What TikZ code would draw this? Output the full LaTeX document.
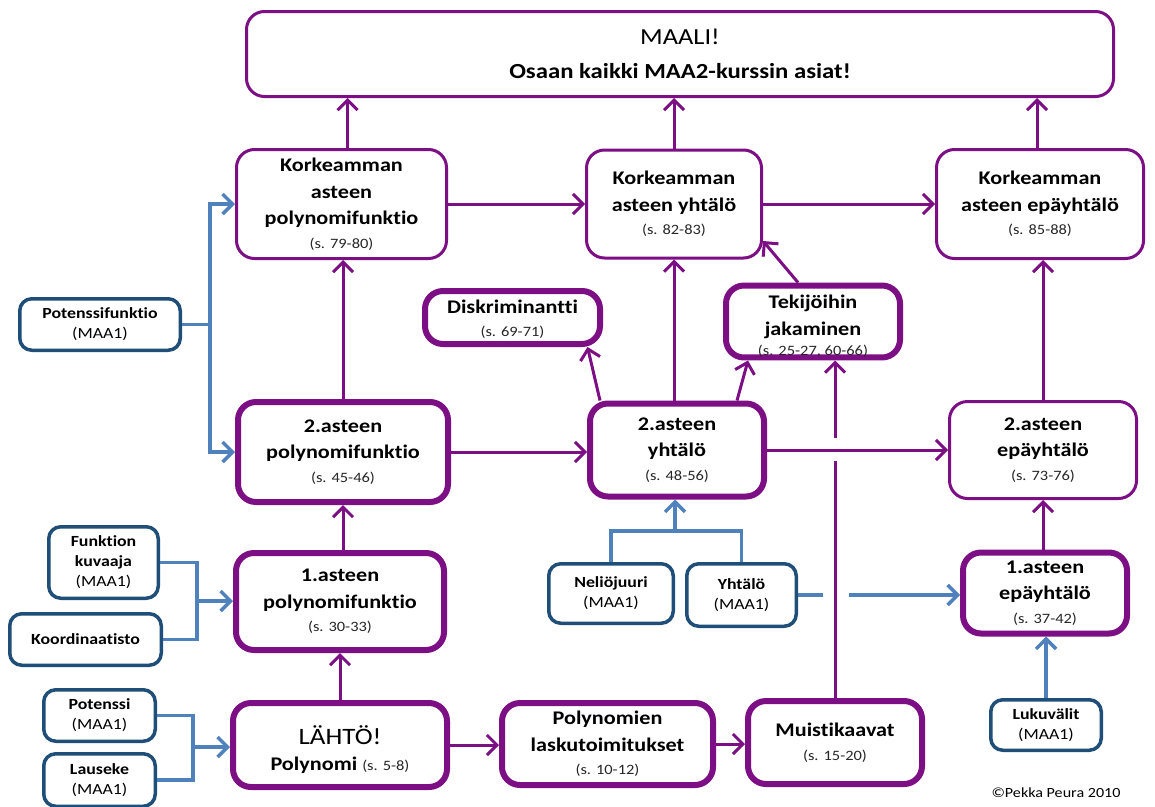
\documentclass[tikz,border=0pt]{standalone}
\usepackage{fontspec}
\setmainfont[FakeStretch=1.15,Ligatures=NoCommon]{Carlito}
\usetikzlibrary{arrows.meta}
\definecolor{purp}{HTML}{7D0F84}
\definecolor{dblue}{HTML}{1F4E79}
\definecolor{lblue}{HTML}{4F81BD}
\newcommand\pgref[1]{{\normalfont\fontsize{14.3}{16}\selectfont\color{black!85}#1}}
\newcommand\maaone{{\normalfont\fontsize{15.5}{18}\selectfont (MAA1)}}
\begin{document}
\begin{tikzpicture}[x=1pt,y=-1pt,
 box/.style={draw=purp,fill=white,rounded corners=18pt,align=center,inner sep=0pt,font=\bfseries\fontsize{19.3}{26.5}\selectfont},
 thinbox/.style={box,line width=3pt},
 thickbox/.style={box,line width=6pt},
 bluebox/.style={draw=dblue,fill=white,line width=3.5pt,rounded corners=12pt,align=center,inner sep=0pt,font=\bfseries\fontsize{15.5}{20}\selectfont},
 parr/.style={draw=purp,line width=3pt,-{Straight Barb[length=10pt,width=20pt]}},
 pline/.style={draw=purp,line width=3pt},
 barr/.style={draw=lblue,line width=3.5pt,-{Straight Barb[length=10pt,width=20pt]}},
 bline/.style={draw=lblue,line width=3.5pt},
]
\fill[white] (0,0) rectangle (1155,806);
\useasboundingbox (0,0) rectangle (1155,806);

% top goal
\node[thinbox,minimum width=867pt,minimum height=85pt] (maali) at (680,54)
 {{\mdseries\fontsize{23}{26}\selectfont MAALI!}\\[8pt]{\fontsize{21.5}{24}\selectfont Osaan kaikki MAA2-kurssin asiat!}};

% row 1
\node[thinbox,minimum width=210pt,minimum height=109pt] (korkPF) at (341.5,204)
 {Korkeamman\\asteen\\polynomifunktio\\[-3pt]\pgref{(s. 79-80)}};
\node[thinbox,minimum width=175pt,minimum height=108pt] (korkY) at (674,204)
 {Korkeamman\\asteen yhtälö\\[-3pt]\pgref{(s. 82-83)}};
\node[thinbox,minimum width=207pt,minimum height=109pt] (korkE) at (1040,204)
 {Korkeamman\\asteen epäyhtälö\\[-3pt]\pgref{(s. 85-88)}};

% row 2
\node[thickbox,minimum width=175pt,minimum height=53pt] (diskr) at (512.5,317.5)
 {\rule{0pt}{17pt}Diskriminantti\\[-3pt]\pgref{(s. 69-71)}};
\node[thickbox,minimum width=174pt,minimum height=67pt] (tekij) at (813,321.5)
 {\rule{0pt}{23pt}Tekijöihin\\jakaminen\\[-6pt]\pgref{(s. 25-27, 60-66)}};
\node[bluebox,minimum width=160.5pt,minimum height=51.5pt] (potfun) at (100,324.5)
 {Potenssifunktio\\\maaone};

% row 3
\node[thickbox,minimum width=210pt,minimum height=100pt] (pf2) at (343,452)
 {2.asteen\\polynomifunktio\\[-3pt]\pgref{(s. 45-46)}};
\node[thickbox,minimum width=174pt,minimum height=93pt] (y2) at (677,450)
 {2.asteen\\yhtälö\\[-3pt]\pgref{(s. 48-56)}};
\node[thinbox,minimum width=187pt,minimum height=97pt] (e2) at (1043,450)
 {2.asteen\\epäyhtälö\\[-3pt]\pgref{(s. 73-76)}};

% row 4
\node[bluebox,minimum width=109.5pt,minimum height=71.5pt] (funk) at (103.5,562.5)
 {Funktion\\kuvaaja\\\maaone};
\node[bluebox,minimum width=151.5pt,minimum height=51.5pt] (koord) at (85.5,639.5)
 {Koordinaatisto};
\node[thickbox,minimum width=208pt,minimum height=97pt] (pf1) at (340,601.5)
 {1.asteen\\polynomifunktio\\[-3pt]\pgref{(s. 30-33)}};
\node[bluebox,minimum width=124.5pt,minimum height=59.5pt] (neli) at (611,593.5)
 {Neliöjuuri\\\maaone};
\node[bluebox,minimum width=109.5pt,minimum height=62.5pt] (yht) at (741.5,595)
 {Yhtälö\\\maaone};
\node[thickbox,minimum width=164pt,minimum height=81pt] (e1) at (1045,593)
 {1.asteen\\epäyhtälö\\[-3pt]\pgref{(s. 37-42)}};

% row 5
\node[bluebox,minimum width=111.5pt,minimum height=51.5pt] (pot) at (99.5,715.5)
 {Potenssi\\\maaone};
\node[bluebox,minimum width=111.5pt,minimum height=52.5pt] (laus) at (99.5,780)
 {Lauseke\\\maaone};
\node[thickbox,minimum width=214pt,minimum height=84pt] (lahto) at (340,745)
 {\rule{0pt}{28pt}{\mdseries\fontsize{23.5}{26}\selectfont LÄHTÖ!}\\Polynomi \pgref{(s. 5-8)}};
\node[thickbox,minimum width=211pt,minimum height=82pt] (pollask) at (607.5,744)
 {Polynomien\\laskutoimitukset\\[-3pt]\pgref{(s. 10-12)}};
\node[thickbox,minimum width=174pt,minimum height=83pt] (muisti) at (835,742.5)
 {Muistikaavat\\[-3pt]\pgref{(s. 15-20)}};
\node[bluebox,minimum width=110.5pt,minimum height=50.5pt] (luku) at (1046,725)
 {Lukuvälit\\\maaone};
\node[anchor=base,font=\fontsize{14}{17}\selectfont,inner sep=0pt] (copy) at (1056,797) {©Pekka Peura 2010};

% purple connectors
\draw[parr] ([xshift=6pt]korkPF.north) -- ([xshift=6pt]korkPF.north |- maali.south);
\draw[parr] (korkY.north) -- (korkY.north |- maali.south);
\draw[parr] ([xshift=-3pt]korkE.north) -- ([xshift=-3pt]korkE.north |- maali.south);
\draw[parr] (korkPF.east) -- (korkY.west);
\draw[parr] (korkY.east) -- (korkE.west);
\draw[parr] (pf2.north) -- (pf2.north |- korkPF.south);
\draw[parr] (pf2.east) -- (pf2.east -| y2.west);
\draw[parr] (korkY.south |- y2.north) -- (korkY.south);
\draw[parr] ([xshift=-77pt]y2.north) -- ([xshift=75pt]diskr.south);
\draw[parr] ([xshift=60pt]y2.north) -- ([xshift=-65pt]tekij.south);
\draw[parr] ([xshift=-15pt]tekij.north) -- ([yshift=-37pt]korkY.east);
\draw[parr] (y2.east) -- (e2.west);
\coordinate (gA) at (835,461);
\coordinate (gB) at (835,438);
\draw[pline] (muisti.north) -- (gA);
\draw[parr] (gB) -- (gB |- tekij.south);
\draw[parr] (pf2.south |- pf1.north) -- (pf2.south);
\draw[parr] (lahto.north) -- (lahto.north |- pf1.south);
\draw[parr] (lahto.east) -- (lahto.east -| pollask.west);
\draw[parr] (pollask.east) -- (pollask.east -| muisti.west);
\draw[parr] (e2.south |- e1.north) -- (e2.south);
\draw[parr] (e2.north) -- (e2.north |- korkE.south);

% blue connectors
\coordinate (j1) at (210,324.5);
\draw[bline] (potfun.east) -- (j1);
\draw[barr] (j1) |- (korkPF.west);
\draw[barr] (j1) |- (pf2.west);
\coordinate (j2) at (197,601);
\draw[bline] (funk.east) -| (j2) |- (koord.east);
\draw[barr] (j2) -- (j2 -| pf1.west);
\coordinate (j3) at (193,747);
\draw[bline] (pot.east) -| (j3) |- (laus.east);
\draw[barr] (j3) -- (j3 -| lahto.west);
\coordinate (j4) at (675,531);
\draw[bline] (neli.north) |- (j4) -| (yht.north);
\draw[barr] (j4) -- (j4 |- y2.south);
\coordinate (gC) at (823,595);
\coordinate (gD) at (849,595);
\draw[bline] (yht.east) -- (gC);
\draw[barr] (gD) -- (gD -| e1.west);
\draw[barr] (luku.north) -- (luku.north |- e1.south);
\end{tikzpicture}
\end{document}
